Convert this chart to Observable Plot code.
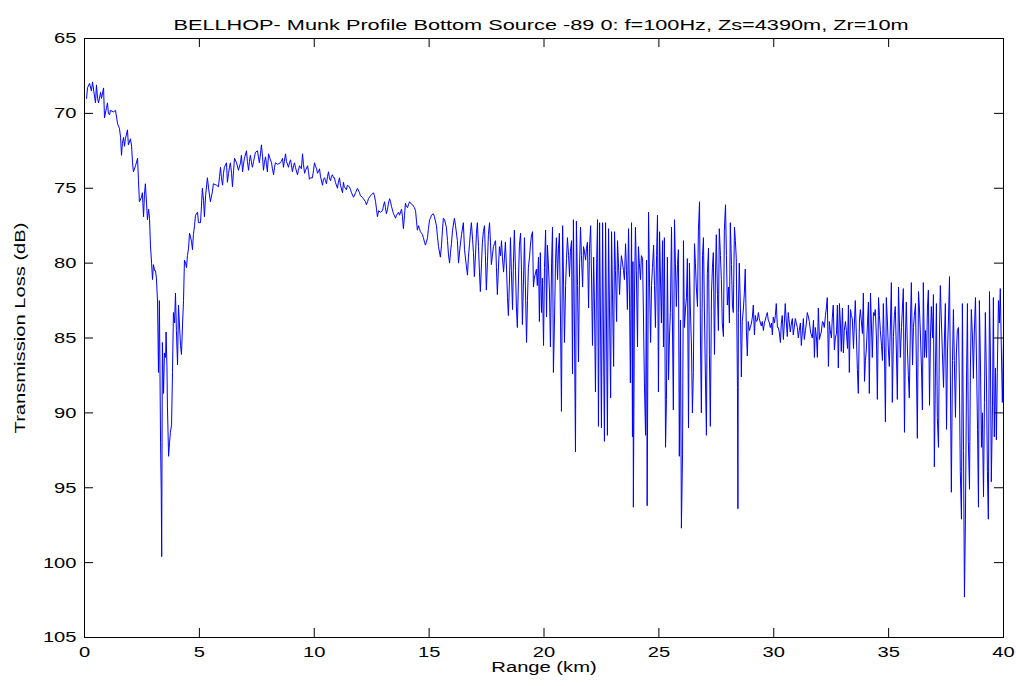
<!DOCTYPE html>
<html><head><meta charset="utf-8">
<script src="https://cdn.jsdelivr.net/npm/d3@7"></script>
<script src="https://cdn.jsdelivr.net/npm/@observablehq/plot@0.6"></script>
<style>body{margin:0;background:#fff}#chart{width:1016px;height:686px}</style>
</head><body><div id="chart"></div>
<script>
// [range km, transmission loss dB]
const seg0to5 = [[0.09,69.0],[0.13,68.3],[0.22,68.0],[0.30,68.5],[0.35,67.9],[0.44,68.9],[0.48,69.3],[0.52,68.1],[0.57,69.0],[0.61,69.3],[0.70,68.6],[0.74,69.0],[0.83,68.3],[0.87,70.3],[0.96,69.6],[1.00,69.3],[1.04,70.0],[1.09,70.1],[1.13,69.8],[1.26,69.9],[1.35,69.8],[1.44,70.7],[1.52,71.0],[1.57,71.6],[1.61,72.8],[1.65,72.0],[1.70,71.6],[1.74,72.2],[1.78,71.7],[1.87,71.1],[1.91,72.1],[2.00,71.7],[2.05,72.2],[2.09,73.3],[2.13,73.9],[2.22,73.5],[2.31,73.0],[2.35,74.5],[2.39,75.9],[2.48,75.6],[2.52,75.3],[2.57,76.9],[2.61,75.4],[2.65,74.7],[2.70,76.0],[2.74,77.1],[2.79,76.4],[2.83,77.0],[2.87,78.8],[2.92,80.0],[2.96,81.1],[3.00,80.1],[3.05,80.5],[3.09,80.5],[3.13,81.0],[3.18,82.6],[3.22,87.3],[3.26,82.5],[3.31,92.0],[3.34,95.3],[3.36,99.6],[3.39,85.3],[3.44,88.7],[3.48,86.0],[3.53,86.3],[3.55,84.6],[3.59,87.0],[3.61,89.6],[3.66,92.9],[3.70,92.0],[3.74,91.3],[3.79,90.8],[3.83,87.3],[3.87,83.3],[3.92,84.0],[3.96,82.0],[4.00,84.5],[4.05,86.8],[4.09,82.8],[4.13,84.0],[4.18,85.5],[4.22,86.1],[4.27,84.0],[4.31,82.5],[4.35,79.8],[4.40,80.0],[4.44,80.3],[4.48,79.5],[4.53,79.0],[4.57,78.0],[4.61,78.2],[4.66,78.6],[4.70,79.1],[4.74,78.1],[4.79,77.5],[4.83,76.8],[4.92,76.6],[4.96,77.3]];
const seg5to10 = [[5.05,77.3],[5.09,76.2],[5.13,75.0],[5.18,75.8],[5.22,76.9],[5.27,75.5],[5.35,74.3],[5.40,75.0],[5.48,75.9],[5.57,75.2],[5.61,74.7],[5.75,74.8],[5.83,74.9],[5.88,74.2],[5.92,73.6],[5.96,74.3],[6.01,74.8],[6.05,74.0],[6.09,73.6],[6.18,73.3],[6.22,74.6],[6.27,74.0],[6.31,73.6],[6.35,73.3],[6.40,74.0],[6.44,74.9],[6.49,73.8],[6.53,73.0],[6.62,73.3],[6.70,73.8],[6.79,73.3],[6.83,72.8],[6.88,73.9],[6.92,73.4],[6.96,73.0],[7.05,72.5],[7.09,73.2],[7.14,73.8],[7.18,73.2],[7.22,72.8],[7.27,73.3],[7.31,73.6],[7.36,73.2],[7.44,72.6],[7.53,72.5],[7.57,72.9],[7.61,73.3],[7.66,72.7],[7.70,72.1],[7.75,72.9],[7.79,73.8],[7.83,73.3],[7.88,72.9],[7.92,73.4],[7.96,73.9],[8.01,72.7],[8.07,73.0],[8.14,73.3],[8.18,73.7],[8.23,74.1],[8.27,73.6],[8.31,73.3],[8.40,73.4],[8.53,73.3],[8.57,73.2],[8.62,73.0],[8.66,73.6],[8.70,73.2],[8.75,72.7],[8.79,73.2],[8.88,73.6],[8.92,73.3],[8.97,73.1],[9.01,73.5],[9.05,73.9],[9.10,73.5],[9.14,73.3],[9.18,73.6],[9.27,74.1],[9.31,73.8],[9.36,73.5],[9.40,73.6],[9.44,73.7],[9.49,72.7],[9.53,73.4],[9.58,74.0],[9.62,73.8],[9.71,73.5],[9.75,73.9],[9.79,74.4],[9.84,74.3],[9.92,74.3],[9.97,73.8]];
const seg10to15 = [[10.01,73.3],[10.05,73.5],[10.10,73.7],[10.14,74.0],[10.18,73.9],[10.23,73.7],[10.27,74.2],[10.36,74.8],[10.40,74.4],[10.45,74.3],[10.49,74.5],[10.53,74.7],[10.58,74.2],[10.62,73.9],[10.66,74.3],[10.71,74.5],[10.75,74.2],[10.79,74.1],[10.84,74.3],[10.88,74.3],[10.92,74.6],[11.01,75.0],[11.05,74.6],[11.10,74.3],[11.14,74.8],[11.23,75.3],[11.27,74.6],[11.31,74.9],[11.40,75.1],[11.44,74.8],[11.53,74.9],[11.58,75.1],[11.62,75.3],[11.71,75.6],[11.80,75.3],[11.88,75.0],[11.97,75.3],[12.01,75.5],[12.10,75.6],[12.14,75.7],[12.23,75.9],[12.27,76.1],[12.32,75.9],[12.36,75.7],[12.45,75.5],[12.58,75.3],[12.62,75.5],[12.67,75.9],[12.71,76.4],[12.75,76.9],[12.80,76.5],[12.88,76.6],[12.97,76.5],[13.01,76.2],[13.06,75.9],[13.10,76.3],[13.14,76.7],[13.19,76.4],[13.23,76.0],[13.28,75.7],[13.32,75.9],[13.36,76.2],[13.45,76.7],[13.54,77.0],[13.58,76.8],[13.67,76.6],[13.71,76.8],[13.80,76.4],[13.84,76.9],[13.88,77.7],[13.93,76.8],[13.97,76.0],[14.01,76.2],[14.06,76.3],[14.10,76.1],[14.15,75.9],[14.19,76.0],[14.28,76.1],[14.36,76.3],[14.41,76.5],[14.45,77.2],[14.49,77.8],[14.54,77.5],[14.58,77.7],[14.62,77.9],[14.67,78.0],[14.71,78.1],[14.75,78.3],[14.80,78.6],[14.84,78.8],[14.88,78.6],[14.93,78.3],[14.97,77.7]];
const seg15to20 = [[15.02,77.1],[15.06,77.0],[15.10,76.8],[15.19,76.7],[15.23,76.9],[15.32,77.5],[15.36,78.2],[15.41,78.9],[15.49,79.6],[15.54,78.8],[15.58,77.8],[15.62,77.0],[15.67,77.1],[15.75,77.6],[15.80,78.5],[15.84,79.4],[15.89,80.0],[15.93,79.3],[15.97,78.7],[16.02,77.8],[16.10,77.0],[16.15,77.5],[16.23,78.5],[16.28,80.0],[16.34,79.0],[16.41,78.1],[16.49,77.3],[16.54,79.1],[16.62,80.2],[16.67,80.8],[16.71,79.6],[16.76,78.7],[16.80,77.9],[16.84,77.3],[16.89,78.4],[16.93,79.3],[16.97,80.9],[17.02,79.4],[17.06,78.0],[17.10,77.3],[17.15,78.9],[17.19,80.6],[17.23,81.9],[17.28,80.0],[17.32,78.6],[17.36,77.9],[17.41,77.5],[17.45,79.5],[17.49,81.8],[17.54,79.9],[17.58,78.1],[17.63,77.3],[17.67,78.6],[17.71,80.1],[17.76,79.4],[17.80,78.9],[17.84,78.7],[17.89,78.5],[17.93,80.3],[17.97,82.1],[18.02,80.2],[18.06,78.9],[18.11,79.5],[18.15,78.5],[18.19,79.6],[18.24,80.6],[18.28,79.6],[18.32,78.6],[18.37,80.4],[18.41,82.3],[18.45,83.5],[18.50,81.0],[18.54,78.3],[18.58,80.5],[18.63,83.1],[18.67,80.0],[18.71,77.8],[18.76,80.5],[18.80,83.0],[18.84,84.3],[18.89,81.0],[18.93,78.8],[18.98,78.0],[19.02,80.5],[19.06,84.1],[19.11,81.0],[19.15,78.3],[19.19,81.5],[19.24,85.3],[19.28,82.5],[19.32,80.3],[19.37,79.6],[19.41,78.8],[19.45,78.2],[19.50,77.9],[19.54,81.6],[19.58,81.0],[19.67,80.4],[19.71,81.5],[19.76,79.6],[19.80,83.9]];
const seg20to25 = [[19.84,79.3],[19.89,83.3],[19.93,81.0],[19.98,85.5],[20.02,80.3],[20.07,77.8],[20.11,83.6],[20.15,78.8],[20.20,80.4],[20.24,82.0],[20.28,85.6],[20.33,80.0],[20.37,77.6],[20.41,87.3],[20.46,83.6],[20.50,80.0],[20.54,78.3],[20.59,81.1],[20.63,79.0],[20.67,78.0],[20.72,84.0],[20.76,89.9],[20.81,77.5],[20.85,81.0],[20.89,85.3],[20.94,81.5],[20.98,79.7],[21.02,78.3],[21.07,79.5],[21.11,80.9],[21.15,79.2],[21.20,78.5],[21.24,87.4],[21.28,77.1],[21.33,85.0],[21.37,92.6],[21.41,77.2],[21.46,81.5],[21.50,86.6],[21.55,80.0],[21.59,77.6],[21.63,79.5],[21.68,81.6],[21.72,78.9],[21.76,79.2],[21.81,79.8],[21.85,79.0],[21.89,78.6],[21.94,83.0],[21.98,79.0],[22.03,77.5],[22.07,81.0],[22.11,85.5],[22.16,79.6],[22.20,83.0],[22.24,88.6],[22.29,80.0],[22.33,77.1],[22.37,90.9],[22.42,77.3],[22.46,84.0],[22.50,91.0],[22.55,77.3],[22.59,85.0],[22.63,91.9],[22.68,77.3],[22.72,84.0],[22.76,91.5],[22.81,77.7],[22.85,83.0],[22.90,89.0],[22.94,77.9],[22.98,82.0],[23.03,86.9],[23.07,77.9],[23.11,80.5],[23.16,83.9],[23.20,78.5],[23.24,80.0],[23.29,82.1],[23.33,80.5],[23.37,79.5],[23.42,80.0],[23.46,80.5],[23.50,81.1],[23.55,78.7],[23.59,80.5],[23.63,83.1],[23.68,77.7],[23.72,82.0],[23.76,88.0],[23.81,77.3],[23.85,91.6],[23.87,79.9],[23.89,96.3],[23.94,82.0],[23.98,77.6],[24.02,80.5],[24.07,85.6],[24.11,78.9],[24.15,80.0],[24.20,81.1],[24.24,79.5],[24.29,79.7],[24.33,83.6],[24.37,88.0],[24.42,91.5],[24.46,79.8],[24.49,96.2],[24.55,76.6],[24.59,81.0],[24.64,85.3],[24.68,81.5],[24.72,80.3],[24.77,78.8],[24.81,81.5],[24.85,84.3],[24.90,79.5],[24.94,76.8]];
const seg25to30 = [[24.98,88.6],[25.03,77.9],[25.07,81.0],[25.11,84.0],[25.16,78.5],[25.20,85.6],[25.24,78.3],[25.29,92.3],[25.33,89.1],[25.37,79.6],[25.42,87.8],[25.46,85.0],[25.50,83.3],[25.55,77.6],[25.59,84.0],[25.63,89.8],[25.68,77.1],[25.72,80.0],[25.76,82.9],[25.81,80.1],[25.85,79.1],[25.89,92.9],[25.94,83.8],[25.98,97.7],[26.03,92.8],[26.07,78.5],[26.11,84.3],[26.16,83.0],[26.20,82.3],[26.24,79.7],[26.29,91.0],[26.33,80.0],[26.37,83.0],[26.42,85.6],[26.46,90.0],[26.50,87.3],[26.55,78.7],[26.59,80.0],[26.63,81.6],[26.68,82.9],[26.72,77.8],[26.77,75.9],[26.81,85.0],[26.85,90.0],[26.90,79.5],[26.94,78.3],[26.98,83.0],[27.03,88.0],[27.07,91.5],[27.11,80.7],[27.16,79.0],[27.20,86.1],[27.24,90.9],[27.29,82.0],[27.33,80.3],[27.37,79.3],[27.42,86.1],[27.46,81.0],[27.50,78.1],[27.55,82.1],[27.59,84.5],[27.63,77.7],[27.68,79.5],[27.72,81.1],[27.76,84.0],[27.81,84.9],[27.85,77.8],[27.90,76.1],[27.94,79.5],[27.98,82.8],[28.03,81.6],[28.07,84.0],[28.11,77.3],[28.16,80.1],[28.20,82.8],[28.24,83.3],[28.29,77.6],[28.33,78.5],[28.37,79.7],[28.42,88.3],[28.44,96.4],[28.46,83.3],[28.50,80.0],[28.55,83.0],[28.59,87.6],[28.63,83.9],[28.68,83.0],[28.72,82.0],[28.76,80.4],[28.81,84.6],[28.85,86.2],[28.89,83.9],[28.94,84.5],[28.98,84.3],[29.03,84.0],[29.07,83.6],[29.11,82.8],[29.16,84.8],[29.20,83.5],[29.24,83.9],[29.29,83.8],[29.33,83.3],[29.37,83.7],[29.42,84.0],[29.46,84.2],[29.50,83.9],[29.55,84.5],[29.59,84.0],[29.63,83.8],[29.68,83.5],[29.72,83.3],[29.76,83.8],[29.81,84.0]];
const seg30to35 = [[29.85,84.3],[29.90,84.0],[29.94,84.8],[29.98,83.6],[30.03,84.0],[30.07,83.5],[30.11,82.7],[30.16,84.3],[30.20,84.3],[30.24,84.6],[30.29,85.3],[30.33,84.0],[30.37,83.5],[30.42,85.1],[30.46,84.0],[30.50,82.7],[30.55,84.0],[30.59,84.9],[30.63,83.3],[30.68,84.0],[30.72,84.6],[30.77,84.0],[30.81,83.7],[30.85,84.8],[30.90,84.2],[30.94,83.7],[30.98,84.0],[31.03,84.3],[31.07,85.0],[31.11,84.5],[31.16,84.0],[31.20,85.5],[31.25,84.5],[31.29,83.7],[31.33,85.1],[31.38,84.5],[31.42,84.0],[31.46,83.3],[31.51,83.6],[31.55,83.9],[31.60,84.6],[31.64,84.8],[31.68,85.0],[31.73,83.8],[31.77,86.3],[31.81,84.3],[31.86,85.0],[31.90,86.3],[31.94,83.0],[31.99,85.1],[32.03,84.8],[32.07,84.6],[32.12,83.9],[32.16,84.0],[32.20,84.3],[32.25,83.5],[32.29,83.0],[32.33,82.3],[32.38,86.9],[32.42,83.9],[32.46,84.5],[32.51,85.0],[32.55,83.6],[32.59,82.8],[32.64,85.8],[32.68,85.0],[32.73,84.7],[32.77,82.8],[32.81,87.0],[32.86,82.7],[32.90,84.0],[32.94,85.9],[32.99,83.0],[33.03,86.0],[33.07,84.5],[33.12,83.9],[33.16,84.5],[33.21,85.7],[33.25,82.8],[33.29,87.3],[33.34,83.1],[33.38,83.5],[33.42,83.7],[33.47,85.7],[33.51,84.0],[33.55,82.5],[33.60,85.0],[33.64,87.1],[33.68,88.7],[33.73,83.8],[33.77,83.1],[33.82,84.0],[33.86,84.7],[33.90,82.0],[33.95,87.9],[33.99,86.5],[34.03,85.8],[34.08,84.0],[34.12,82.6],[34.16,88.7],[34.21,82.0],[34.25,84.0],[34.29,86.3],[34.34,83.3],[34.38,83.5],[34.42,83.1],[34.47,85.0],[34.51,89.1],[34.56,82.3],[34.60,83.5],[34.64,84.5],[34.69,85.5],[34.73,86.5],[34.77,82.7],[34.82,86.0],[34.86,90.6]];
const seg35to40 = [[34.90,82.3],[34.95,84.0],[34.99,85.8],[35.03,86.9],[35.08,84.0],[35.12,81.3],[35.16,89.3],[35.21,84.9],[35.25,83.5],[35.29,82.9],[35.34,86.0],[35.38,89.1],[35.43,81.6],[35.47,84.0],[35.51,86.3],[35.56,84.3],[35.60,83.0],[35.64,81.7],[35.69,91.3],[35.73,85.0],[35.77,82.6],[35.82,85.8],[35.86,87.5],[35.90,89.0],[35.95,84.0],[35.99,81.3],[36.04,86.8],[36.08,84.3],[36.12,83.5],[36.17,82.7],[36.21,87.0],[36.25,91.7],[36.30,81.9],[36.34,83.0],[36.38,84.6],[36.43,87.0],[36.47,89.8],[36.51,81.3],[36.56,86.3],[36.60,84.5],[36.65,86.3],[36.69,83.0],[36.73,81.8],[36.78,89.5],[36.82,85.0],[36.86,82.9],[36.91,85.0],[36.95,82.1],[36.99,93.6],[37.04,87.0],[37.08,82.7],[37.12,90.3],[37.17,92.3],[37.21,85.0],[37.25,81.5],[37.30,84.0],[37.34,86.0],[37.39,88.3],[37.43,85.0],[37.47,82.7],[37.52,91.1],[37.56,86.0],[37.60,84.0],[37.65,80.9],[37.69,88.0],[37.73,95.3],[37.78,86.5],[37.82,83.1],[37.86,86.5],[37.91,90.3],[37.95,86.0],[37.99,84.5],[38.04,84.3],[38.08,88.0],[38.12,93.9],[38.17,97.1],[38.21,82.7],[38.26,92.5],[38.30,102.3],[38.34,97.5],[38.39,88.0],[38.43,82.7],[38.47,91.9],[38.52,95.1],[38.56,87.0],[38.60,83.1],[38.65,85.0],[38.69,87.7],[38.73,84.6],[38.78,82.3],[38.82,86.0],[38.87,91.1],[38.91,96.3],[38.95,82.5],[39.00,87.0],[39.04,92.3],[39.08,90.0],[39.13,95.6],[39.17,89.3],[39.21,83.3],[39.26,88.0],[39.30,93.9],[39.34,97.1],[39.39,81.9],[39.43,86.0],[39.47,94.6],[39.52,89.6],[39.56,82.3],[39.60,91.6],[39.65,87.0],[39.69,91.8],[39.73,87.3],[39.78,82.5],[39.82,84.0],[39.86,81.7],[39.91,86.0],[39.95,89.3],[40.00,85.0]];

const xTicks = [0, 5, 10, 15, 20, 25, 30, 35, 40];
const yTicks = [65, 70, 75, 80, 85, 90, 95, 100, 105];
const titleText = "BELLHOP- Munk Profile Bottom Source -89 0: f=100Hz, Zs=4390m, Zr=10m";
const xLabel = "Range (km)";
const yLabel = "Transmission Loss (dB)";

const data = [seg0to5, seg5to10, seg10to15, seg15to20, seg20to25, seg25to30, seg30to35, seg35to40]
  .flat().map(([range, tl]) => ({range, tl}));

const W = 1016, H = 686, mL = 84, mR = 13, mT = 38, mB = 49;
const plotW = W - mL - mR, plotH = H - mT - mB, tickLen = 9;

const chart = Plot.plot({
  width: W, height: H,
  marginLeft: mL, marginRight: mR, marginTop: mT, marginBottom: mB,
  style: {fontFamily: "'Liberation Sans', Arial, sans-serif", fontSize: "15.5px", background: "#fff", color: "#000"},
  x: {domain: [0, 40], label: null},
  y: {domain: [65, 105], reverse: true, label: null},
  marks: [
    Plot.line(data, {x: "range", y: "tl", stroke: "#0000ff", strokeWidth: 1}),
    Plot.tickX(xTicks, {x: d => d, stroke: "#000", insetTop: plotH - tickLen}),
    Plot.tickX(xTicks, {x: d => d, stroke: "#000", insetBottom: plotH - tickLen}),
    Plot.tickY(yTicks, {y: d => d, stroke: "#000", insetRight: plotW - tickLen}),
    Plot.tickY(yTicks, {y: d => d, stroke: "#000", insetLeft: plotW - tickLen}),
    Plot.frame({stroke: "#000"}),
    Plot.axisX(xTicks, {anchor: "bottom", tickSize: 0, tickPadding: 8, label: null}),
    Plot.axisY(yTicks, {anchor: "left", tickSize: 0, tickPadding: 8, label: null}),
    Plot.text([xLabel], {text: d => d, frameAnchor: "bottom", lineAnchor: "bottom", dy: 34, fill: "#000"}),
    Plot.text([yLabel], {text: d => d, frameAnchor: "left", textAnchor: "middle", rotate: -90, dx: -64, dy: -10, fill: "#000"}),
    Plot.text([titleText], {text: d => d, frameAnchor: "top", dy: -20, dx: -3, fill: "#000", className: "ttl"})
  ]
});
document.getElementById("chart").appendChild(chart);

// Reference text is horizontally stretched; widen glyphs to match.
const stretch = 1.3;
chart.querySelectorAll("text").forEach(t => {
  const inTitle = t.closest(".ttl") !== null;
  const k = inTitle ? 1.4 : stretch;
  const spans = t.querySelectorAll("tspan");
  const els = spans.length ? Array.from(spans) : [t];
  els.forEach(e => {
    const L = e.getComputedTextLength();
    if (L > 0) { e.setAttribute("textLength", (L * k).toFixed(1)); e.setAttribute("lengthAdjust", "spacingAndGlyphs"); }
  });
});
</script>
</body></html>
